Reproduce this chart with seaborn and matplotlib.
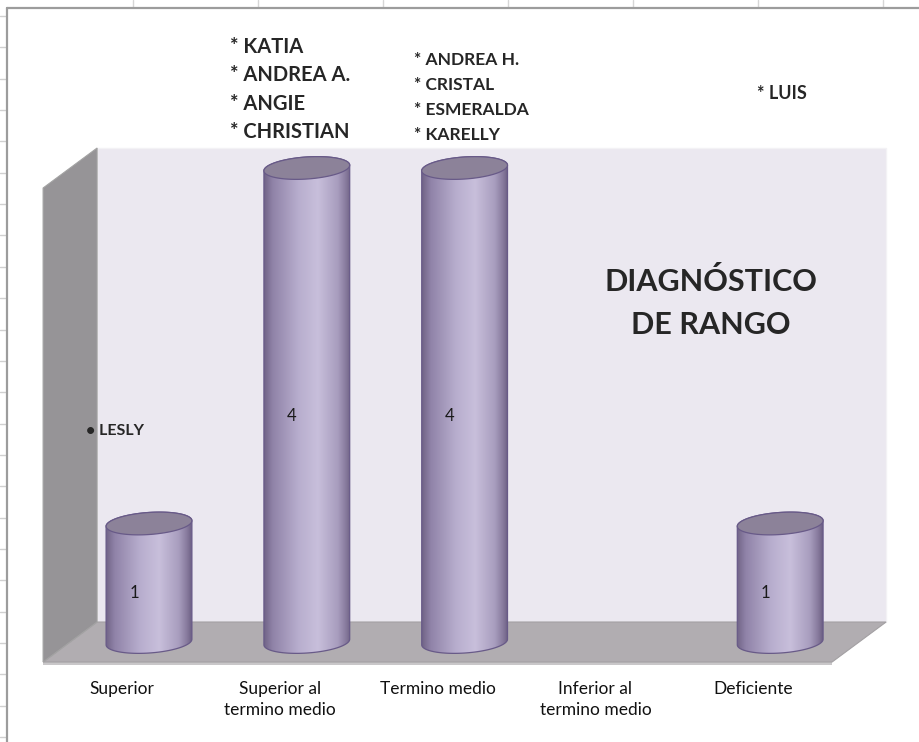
import numpy as np
import matplotlib.pyplot as plt
import seaborn as sns
from matplotlib.patches import Polygon
from matplotlib.lines import Line2D
from matplotlib.colors import LinearSegmentedColormap

# data
categories = ['Superior', 'Superior al\ntermino medio', 'Termino medio',
              'Inferior al\ntermino medio', 'Deficiente']
values = [1, 4, 4, 0, 1]
names_superior = ['LESLY']
names_sup_medio = ['KATIA', 'ANDREA A.', 'ANGIE', 'CHRISTIAN']
names_medio = ['ANDREA H.', 'CRISTAL', 'ESMERALDA', 'KARELLY']
names_deficiente = ['LUIS']
title_lines = ['DIAGNÓSTICO', 'DE RANGO']

W, H = 919, 742
# pixel geometry of the 3d box (mid-depth plane)
X0_PX, X_STEP = 149, 157.8
Y0_PX, Y_STEP = 642, 118.5
DX, DY = 27 / X_STEP, 20 / Y_STEP
BAR_W = 86 / X_STEP
B_PX = 11            # half height of the ellipses
TILT = np.radians(4)

sns.set_style('white')
plt.rcParams['font.family'] = ['Lato', 'DejaVu Sans']

fig = plt.figure(figsize=(W / 100, H / 100), dpi=100)
fig.patch.set_facecolor('white')
ax = fig.add_axes([0, 0, 1, 1])

sns.barplot(x=categories, y=values, width=BAR_W, color='#b5aac8',
            errorbar=None, ax=ax, zorder=3)

ax.set_xlim(-X0_PX / X_STEP, (W - X0_PX) / X_STEP)
ax.set_ylim((Y0_PX - H) / Y_STEP, Y0_PX / Y_STEP)
ax.axis('off')

# walls and floor
ymax = max(values)
left, right = -0.5, len(categories) - 0.5
ax.add_patch(Polygon([(left + DX, DY), (right + DX, DY), (right + DX, ymax + DY),
                      (left + DX, ymax + DY)],
                     fc='#ebe8f0', ec='#f3f2f5', lw=1, zorder=1))
ax.add_patch(Polygon([(left - DX, -DY - 3 / Y_STEP), (right - DX, -DY - 3 / Y_STEP),
                      (right - DX, -DY), (left - DX, -DY)],
                     fc='#c9c7c9', ec='none', zorder=1.4))
ax.add_patch(Polygon([(left - DX, -DY), (right - DX, -DY), (right + DX, DY),
                      (left + DX, DY)],
                     fc='#b1adb1', ec='#a3a0a3', lw=0.8, zorder=1.5))
ax.add_patch(Polygon([(left - DX, -DY), (left + DX, DY), (left + DX, ymax + DY),
                      (left - DX, ymax - DY)],
                     fc='#969497', ec='#a3a3a3', lw=0.8, zorder=1.6))

grad_cmap = LinearSegmentedColormap.from_list('cyl', [
    (0.0, '#716487'), (0.10, '#9083a8'), (0.40, '#b8aece'), (0.62, '#c8bfdb'),
    (0.85, '#a89dbe'), (0.95, '#85789b'), (1.0, '#6c5f83')])
grad = np.linspace(0, 1, 256).reshape(1, -1)


def ellipse(cx, cy, a_px, t):
    xp = a_px * np.cos(t) * np.cos(TILT) - B_PX * np.sin(t) * np.sin(TILT)
    yp = a_px * np.cos(t) * np.sin(TILT) + B_PX * np.sin(t) * np.cos(TILT)
    return np.column_stack([cx + xp / X_STEP, cy + yp / Y_STEP])


for patch, v in zip(ax.patches, values):
    patch.set_visible(False)
    if v <= 0:
        continue
    half = patch.get_width() / 2
    cx = patch.get_x() + half
    a_px = half * X_STEP
    bottom = ellipse(cx, 0, a_px, np.linspace(np.pi, 2 * np.pi, 60))
    top_arc = ellipse(cx, v, a_px, np.linspace(0, np.pi, 60))
    body = Polygon(np.vstack([bottom, top_arc]), fc='none', ec='#685a88',
                   lw=0.9, zorder=4)
    ax.add_patch(body)
    im = ax.imshow(grad, cmap=grad_cmap, aspect='auto', interpolation='bicubic',
                   extent=(cx - half, cx + half, -0.2, v + 0.2), zorder=3.5)
    im.set_clip_path(body)
    cap = ellipse(cx, v, a_px, np.linspace(0, 2 * np.pi, 120))
    ax.add_patch(Polygon(cap, fc='#8c8299', ec='#685a88', lw=0.9, zorder=5))
    ax.text(cx - 0.095, v / 2 - 0.09, str(v), ha='center', va='center',
            fontsize=12, color='#1a1a1a', zorder=6)

for i, cat in enumerate(categories):
    ax.text(i - DX, -DY - 0.16, cat, ha='center', va='top', fontsize=12.5,
            color='#111111', linespacing=1.4, zorder=6)


def fx(px):
    return px / W


def fy(py):
    return 1 - py / H


# name annotations
for k, name in enumerate(names_sup_medio):
    fig.text(fx(230), fy(53 + 28.3 * k), '* ' + name, fontsize=14.5,
             fontweight='bold', va='baseline', ha='left')
for k, name in enumerate(names_medio):
    fig.text(fx(414), fy(65 + 25 * k), '* ' + name, fontsize=12.5,
             fontweight='bold', va='baseline', ha='left')
for name in names_deficiente:
    fig.text(fx(757), fy(99), '* ' + name, fontsize=13,
             fontweight='bold', va='baseline', ha='left')
for name in names_superior:
    fig.text(fx(86), fy(435), '\u2022 ' + name, fontsize=11.5,
             fontweight='bold', va='baseline', ha='left')

for k, line in enumerate(title_lines):
    fig.text(fx(711), fy(291 + 43 * k), line, fontsize=22, fontweight='bold',
             va='baseline', ha='center')

# spreadsheet gridlines around the chart object
for gx in range(133, W, 125):
    fig.add_artist(Line2D([fx(gx)] * 2, [1, fy(7)], transform=fig.transFigure,
                          color='#d6d6d6', lw=1))
for gy in np.arange(16, H, 31.35):
    fig.add_artist(Line2D([0, fx(5)], [fy(gy)] * 2, transform=fig.transFigure,
                          color='#d0d0d0', lw=1))
fig.add_artist(Line2D([fx(7), 1], [fy(8)] * 2, transform=fig.transFigure,
                      color='#9c9c9c', lw=1.6))
fig.add_artist(Line2D([fx(7)] * 2, [fy(8), 0], transform=fig.transFigure,
                      color='#9c9c9c', lw=1.6))

plt.savefig('out.png', dpi=100)
